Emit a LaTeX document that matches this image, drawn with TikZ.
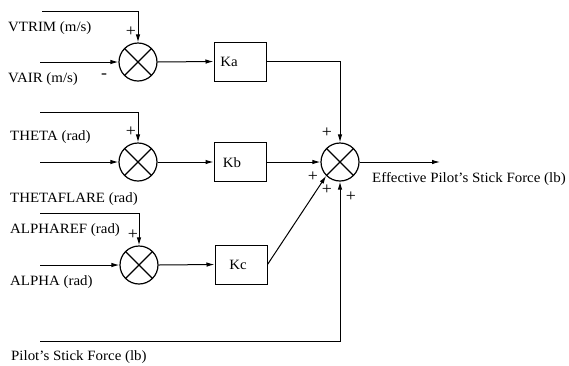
\documentclass[tikz,border=0pt]{standalone}
\usepackage{fontspec}
\setmainfont{Liberation Serif}[FakeStretch=1.05]
\usetikzlibrary{arrows.meta,calc}
\begin{document}
\begin{tikzpicture}[x=1pt,y=-1pt,
  lbl/.style={font=\fontsize{14.2}{16}\selectfont, inner sep=0pt, anchor=base west},
  gtxt/.style={font=\fontsize{14.2}{16}\selectfont, inner sep=0pt},
  sgn/.style={font=\fontsize{17}{17}\selectfont, inner sep=0pt},
  sumj/.style={circle, draw, line width=1.2pt, minimum size=38pt, inner sep=0pt,
    path picture={\draw[line width=1.2pt]
      (path picture bounding box.north west) -- (path picture bounding box.south east)
      (path picture bounding box.north east) -- (path picture bounding box.south west);}},
  gainbox/.style={draw, line width=1pt, minimum width=52pt, minimum height=39pt, inner sep=0pt},
  wire/.style={line width=1pt},
  arr/.style={wire, -{Latex[length=8pt,width=4.5pt]}}
]
\useasboundingbox (0,0) rectangle (569,365);

% junctions and gains
\node[sumj] (s1) at (138,62) {};
\node[sumj] (s2) at (138,162) {};
\node[sumj] (s3) at (139,265) {};
\node[sumj] (s4) at (340,162) {};
\node[gainbox] (ka) at (240,61.5) {};
\node[gainbox] (kb) at (240,162) {};
\node[gainbox] (kc) at (241,264.5) {};
\node[gtxt] at (229,62) {Ka};
\node[gtxt] at (232,162.5) {Kb};
\node[gtxt] at (238,265) {Kc};

% free ends
\coordinate (i1a) at (42,11);
\coordinate (i1b) at (40,62);
\coordinate (i2a) at (40,112);
\coordinate (i2b) at (40,162);
\coordinate (i3a) at (40,213);
\coordinate (i3b) at (40,265);
\coordinate (i4) at (40,341);
\coordinate (out) at (440,162);

% connectors
\draw[arr] (i1a) -| (s1.north);
\draw[arr] (i1b) -- (s1.west);
\draw[arr] (s1.east) -- (ka.west);
\draw[arr] (ka.east) -| (s4.north);
\draw[arr] (i2a) -| (s2.north);
\draw[arr] (i2b) -- (s2.west);
\draw[arr] (s2.east) -- (kb.west);
\draw[arr] (kb.east) -- (s4.west);
\draw[arr] (i3a) -| (s3.north);
\draw[arr] (i3b) -- (s3.west);
\draw[arr] (s3.east) -- (kc.west);
\draw[arr] (kc.east) -- (s4.225);
\draw[arr] (i4) -| (s4.south);
\draw[arr] (s4.east) -- (out);

% labels
\node[lbl] at (8,31) {VTRIM (m/s)};
\node[lbl] at (8,82) {VAIR (m/s)};
\node[lbl] at (10,140) {THETA (rad)};
\node[lbl] at (10,202) {THETAFLARE (rad)};
\node[lbl] at (10,233) {ALPHAREF (rad)};
\node[lbl] at (10,285) {ALPHA (rad)};
\node[lbl] at (11,360) {Pilot's Stick Force (lb)};
\node[lbl] at (372,182) {Effective Pilot's Stick Force (lb)};

% signs
\node[sgn] at (131,32) {+};
\node[sgn] at (104,76) {-};
\node[sgn] at (131,132) {+};
\node[sgn] at (133,235) {+};
\node[sgn] at (327,133) {+};
\node[sgn] at (313,177) {+};
\node[sgn] at (327,190) {+};
\node[sgn] at (351,197) {+};
\end{tikzpicture}
\end{document}
